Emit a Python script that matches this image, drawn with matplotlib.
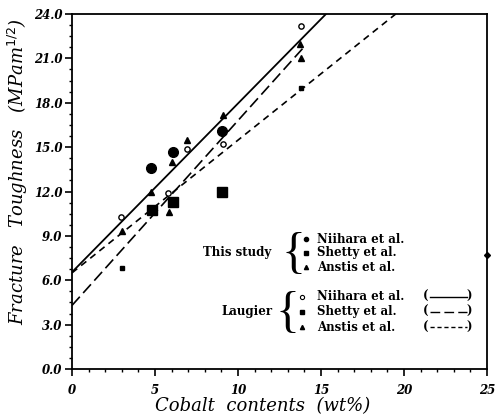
import matplotlib.pyplot as plt
from matplotlib.ticker import MultipleLocator

# this study (measured points)
this_niihara_x = [4.75, 6.1, 9.05]
this_niihara_y = [13.6, 14.7, 16.1]
this_shetty_x = [4.8, 6.1, 9.05]
this_shetty_y = [10.75, 11.3, 11.95]
this_anstis_x = [3.0, 4.75, 6.0, 9.1, 13.75]
this_anstis_y = [9.3, 12.0, 14.0, 17.2, 22.0]

# Laugier points
laugier_niihara_x = [2.95, 5.8, 6.95, 9.1, 13.8]
laugier_niihara_y = [10.3, 11.9, 14.9, 15.2, 23.2]
laugier_shetty_x = [3.0, 13.8]
laugier_shetty_y = [6.85, 19.0]
laugier_anstis_x = [5.85, 6.95, 13.8]
laugier_anstis_y = [10.6, 15.5, 21.0]

# Laugier fit lines (end points)
fit_niihara_x = [0, 15.3]
fit_niihara_y = [6.55, 24.0]
fit_shetty_x = [0, 14.0]
fit_shetty_y = [4.3, 21.8]
fit_anstis_x = [0, 19.5]
fit_anstis_y = [6.5, 24.0]

# stray mark on the right axis
mark_x = [25]
mark_y = [7.7]

xticks = [0, 5, 10, 15, 20, 25]
yticks = [0, 3, 6, 9, 12, 15, 18, 21, 24]
ytick_labels = ['0.0', '3.0', '6.0', '9.0', '12.0', '15.0', '18.0', '21.0', '24.0']
names = ['Niihara et al.', 'Shetty et al.', 'Anstis et al.']

fig = plt.figure(figsize=(4.97, 4.18), dpi=100)
ax = fig.add_axes([0.1449, 0.1172, 0.835, 0.8493])

# fit lines
ax.plot(fit_niihara_x, fit_niihara_y, color='black', lw=1.3, ls='-')
ax.plot(fit_shetty_x, fit_shetty_y, color='black', lw=1.2, ls=(0, (7, 3)))
ax.plot(fit_anstis_x, fit_anstis_y, color='black', lw=1.2, ls=(0, (4, 3)))

# points
ax.plot(this_niihara_x, this_niihara_y, 'o', color='black', ms=7, zorder=5)
ax.plot(this_shetty_x, this_shetty_y, 's', color='black', ms=6.5, zorder=5)
ax.plot(this_anstis_x, this_anstis_y, '^', color='black', ms=4.5, zorder=5)
ax.plot(laugier_niihara_x, laugier_niihara_y, 'o', mfc='white', mec='black', mew=1.0, ms=3.8, zorder=5)
ax.plot(laugier_shetty_x, laugier_shetty_y, 's', color='black', ms=3.5, zorder=5)
ax.plot(laugier_anstis_x, laugier_anstis_y, '^', color='black', ms=3.8, zorder=5)
ax.plot(mark_x, mark_y, marker='D', color='black', ms=3, clip_on=False, zorder=6)

ax.set_xlim(0, 25)
ax.set_ylim(0, 24)
ax.set_xticks(xticks)
ax.set_yticks(yticks)
ax.set_yticklabels(ytick_labels)
ax.xaxis.set_minor_locator(MultipleLocator(1))
ax.yaxis.set_minor_locator(MultipleLocator(0.75))
ax.tick_params(which='major', direction='out', length=5, width=1.2)
ax.tick_params(axis='x', which='major', pad=6)
ax.tick_params(axis='y', which='major', pad=2)
ax.tick_params(which='minor', direction='out', length=2.5, width=1.0)
for lab in ax.get_xticklabels() + ax.get_yticklabels():
    lab.set_fontfamily('DejaVu Serif')
    lab.set_fontstyle('italic')
    lab.set_fontweight('bold')
    lab.set_fontsize(8.5)
for s in ax.spines.values():
    s.set_linewidth(1.3)

fig.text(0.529, 0.028, 'Cobalt  contents  (wt%)', family='DejaVu Serif', style='italic',
         fontsize=13, ha='center', va='center')
fig.text(0.036, 0.59, r'Fracture   Toughness   (MPam$^{1/2}$)', family='DejaVu Serif',
         style='italic', fontsize=13, rotation=90, ha='center', va='center')

# hand-made legend
tf = dict(transform=ax.transAxes, family='DejaVu Serif', fontweight='bold',
          fontsize=8.5, va='center', ha='left')
this_rows = [0.366, 0.327, 0.287]
laug_rows = [0.203, 0.161, 0.118]
ax.text(0.316, this_rows[1], 'This study', **tf)
ax.text(0.359, laug_rows[1], 'Laugier', **tf)
ax.text(0.562, this_rows[1] - 0.005, '{', transform=ax.transAxes, family='Liberation Serif',
        fontsize=36, va='center', ha='right')
ax.text(0.548, laug_rows[1] - 0.005, '{', transform=ax.transAxes, family='Liberation Serif',
        fontsize=36, va='center', ha='right')

this_marks = [dict(marker='o', color='black', ms=3),
              dict(marker='s', color='black', ms=2.8),
              dict(marker='^', color='black', ms=3)]
laug_marks = [dict(marker='o', mfc='white', mec='black', mew=0.8, ms=3),
              dict(marker='s', color='black', ms=2.5),
              dict(marker='^', color='black', ms=3)]
styles = ['-', (0, (7, 3)), (0, (3, 2))]
for i in range(3):
    ax.plot([0.563], [this_rows[i]], transform=ax.transAxes, clip_on=False, **this_marks[i])
    ax.text(0.590, this_rows[i], names[i], **tf)
    ax.plot([0.553], [laug_rows[i]], transform=ax.transAxes, clip_on=False, **laug_marks[i])
    ax.text(0.590, laug_rows[i], names[i], **tf)
    ax.text(0.846, laug_rows[i], '(', **tf)
    ax.text(0.950, laug_rows[i], ')', **tf)
    ax.plot([0.862, 0.952], [laug_rows[i], laug_rows[i]], transform=ax.transAxes,
            color='black', lw=1.0, ls=styles[i])

fig.savefig('out.png', dpi=100)
